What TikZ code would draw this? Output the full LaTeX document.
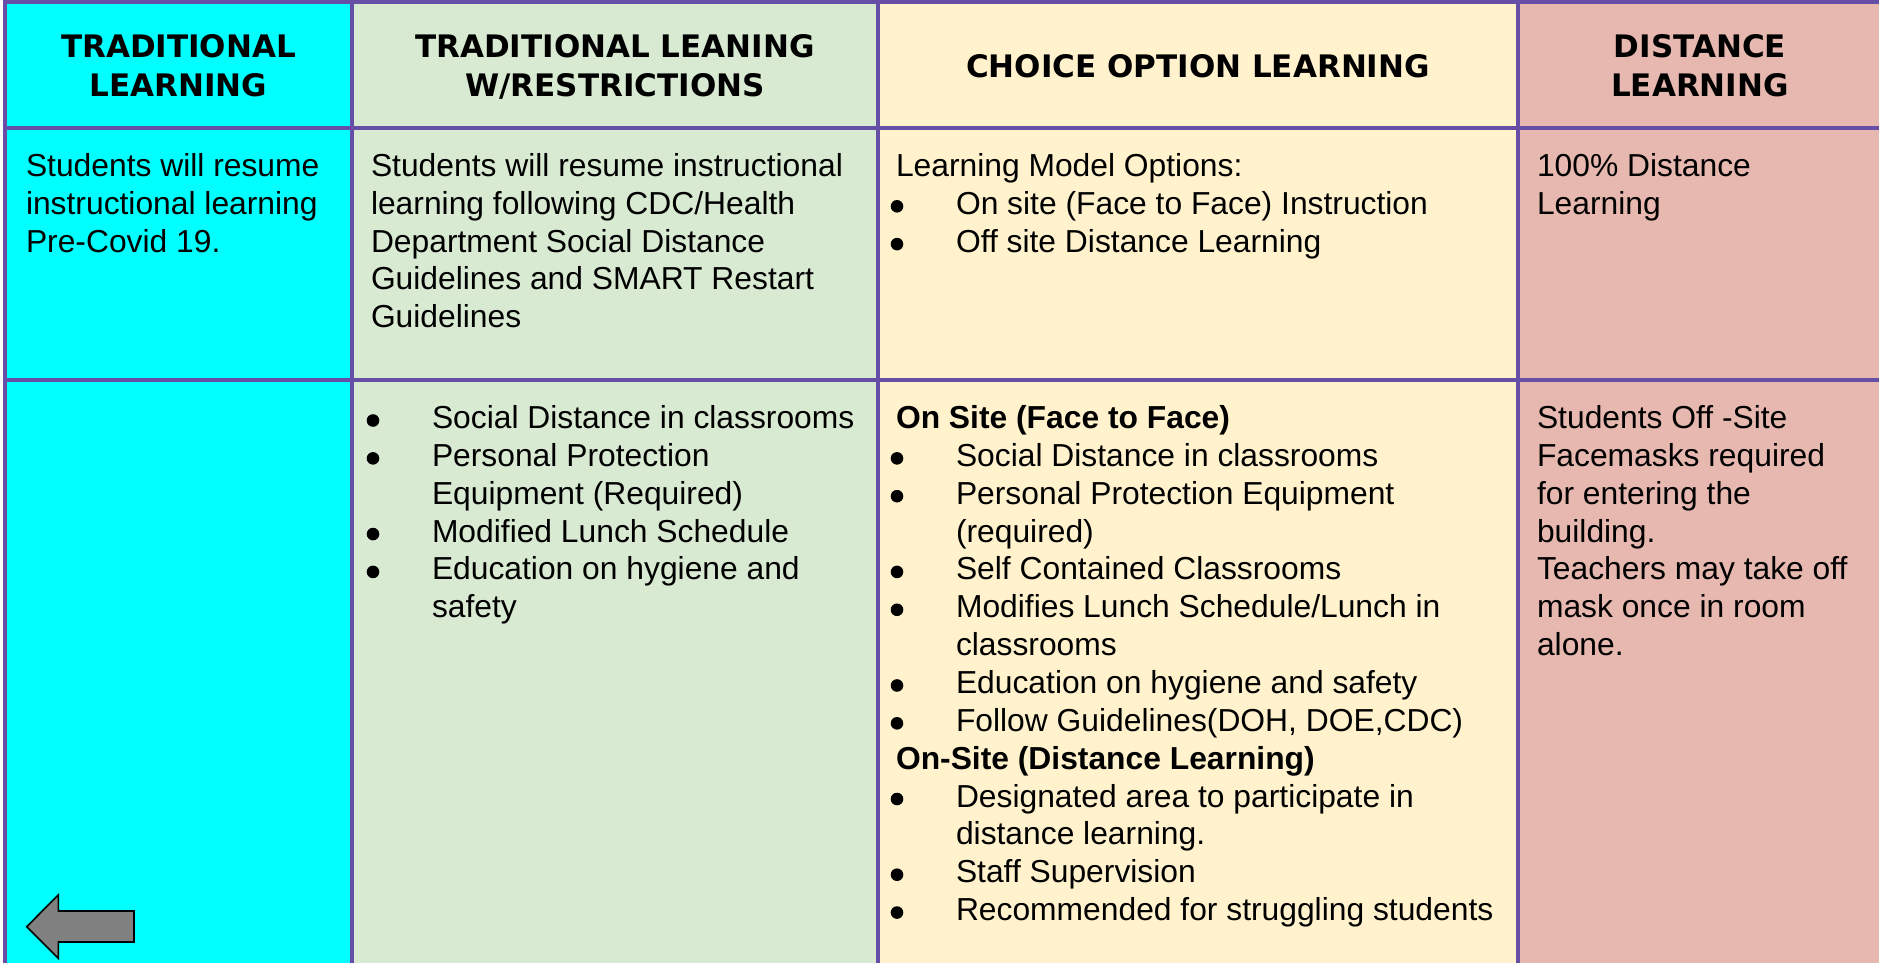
\documentclass[tikz,border=0pt]{standalone}
\usepackage{fontspec}
\newfontfamily\bodyfam{Liberation Sans}
\newfontfamily\headfam{DejaVu Sans}
\definecolor{cyancell}{HTML}{00FFFF}
\definecolor{greencell}{HTML}{D9EAD3}
\definecolor{yellowcell}{HTML}{FFF2CC}
\definecolor{pinkcell}{HTML}{E6B8AF}
\definecolor{gridc}{HTML}{674EA7}
\definecolor{arrowgray}{HTML}{808080}
\newcommand\bodyfont{\bodyfam\fontsize{31.8}{38}\selectfont}
\newcommand\headfont{\headfam\bfseries\fontsize{31}{37}\selectfont}
\newcommand\tline[4]{\node[tx] (#1) at (#2,#3) {#4};}
\newcommand\bline[5]{\fill[bul] (#2,#3-8) circle (6.3pt); \node[tx] (#1) at (#4,#3) {#5};}
\begin{document}
\begin{tikzpicture}[x=1pt,y=-1pt,
  tx/.style={anchor=base west, inner sep=0pt, outer sep=0pt, font=\bodyfont, text=black},
  hd/.style={anchor=base, inner sep=0pt, outer sep=0pt, font=\headfont, text=black},
  bul/.style={fill=black},
  gridline/.style={draw=gridc, line width=4pt},
  arrowst/.style={fill=arrowgray, draw=black, line width=1.6pt, line join=miter}]
\useasboundingbox (0,0) rectangle (1879,963);
\fill[white] (0,0) rectangle (1879,963);
% cell fills
\fill[cyancell] (5,0) rectangle (352,963);
\fill[greencell] (352,0) rectangle (877.5,963);
\fill[yellowcell] (877.5,0) rectangle (1518,963);
\fill[pinkcell] (1518,0) rectangle (1879,963);
% grid
\draw[gridline] (5,0) -- (5,963);
\draw[gridline] (352,0) -- (352,963);
\draw[gridline] (877.5,0) -- (877.5,963);
\draw[gridline] (1518,0) -- (1518,963);
\draw[gridline] (3,2.3) -- (1879,2.3);
\draw[gridline] (3,128.5) -- (1879,128.5);
\draw[gridline] (3,380) -- (1879,380);
% headers
\node[hd] (h1a) at (178.5,58) {TRADITIONAL};
\node[hd] (h1b) at (178.5,96.5) {LEARNING};
\node[hd] (h2a) at (615,58) {TRADITIONAL LEANING};
\node[hd] (h2b) at (615,96.5) {W/RESTRICTIONS};
\node[hd] (h3a) at (1198,78) {CHOICE OPTION LEARNING};
\node[hd] (h4a) at (1700,58) {DISTANCE};
\node[hd] (h4b) at (1700,96.5) {LEARNING};
% row 2
\tline{a1}{26}{176.5}{Students will resume}
\tline{a2}{26}{214.3}{instructional learning}
\tline{a3}{26}{252.1}{Pre-Covid 19.}
\tline{b1}{371}{176.5}{Students will resume instructional}
\tline{b2}{371}{214.3}{learning following CDC/Health}
\tline{b3}{371}{252.1}{Department Social Distance}
\tline{b4}{371}{289.9}{Guidelines and SMART Restart}
\tline{b5}{371}{327.7}{Guidelines}
\tline{c1}{896}{176.5}{Learning Model Options:}
\bline{c2}{897}{214.3}{956}{On site (Face to Face) Instruction}
\bline{c3}{897}{252.1}{956}{Off site Distance Learning}
\tline{d1}{1537}{176.5}{100\% Distance}
\tline{d2}{1537}{214.3}{Learning}
% row 3, column 2
\bline{e1}{373}{428.5}{432}{Social Distance in classrooms}
\bline{e2}{373}{466.35}{432}{Personal Protection}
\tline{e3}{432}{504.2}{Equipment (Required)}
\bline{e4}{373}{542.05}{432}{Modified Lunch Schedule}
\bline{e5}{373}{579.9}{432}{Education on hygiene and}
\tline{e6}{432}{617.75}{safety}
% row 3, column 3
\tline{f1}{896}{428.5}{\bfseries On Site (Face to Face)}
\bline{f2}{897}{466.35}{956}{Social Distance in classrooms}
\bline{f3}{897}{504.2}{956}{Personal Protection Equipment}
\tline{f4}{956}{542.05}{(required)}
\bline{f5}{897}{579.9}{956}{Self Contained Classrooms}
\bline{f6}{897}{617.75}{956}{Modifies Lunch Schedule/Lunch in}
\tline{f7}{956}{655.6}{classrooms}
\bline{f8}{897}{693.45}{956}{Education on hygiene and safety}
\bline{f9}{897}{731.3}{956}{Follow Guidelines(DOH, DOE,CDC)}
\tline{f10}{896}{769.15}{\bfseries On-Site (Distance Learning)}
\bline{f11}{897}{807}{956}{Designated area to participate in}
\tline{f12}{956}{844.85}{distance learning.}
\bline{f13}{897}{882.7}{956}{Staff Supervision}
\bline{f14}{897}{920.55}{956}{Recommended for struggling students}
% row 3, column 4
\tline{g1}{1537}{428.5}{Students Off -Site}
\tline{g2}{1537}{466.35}{Facemasks required}
\tline{g3}{1537}{504.2}{for entering the}
\tline{g4}{1537}{542.05}{building.}
\tline{g5}{1537}{579.9}{Teachers may take off}
\tline{g6}{1537}{617.75}{mask once in room}
\tline{g7}{1537}{655.6}{alone.}
% back arrow
\draw[arrowst] (26.7,926.7) -- (58.3,895) -- (58.3,911) -- (134,911) -- (134,942) -- (58.3,942) -- (58.3,958.3) -- cycle;
\end{tikzpicture}
\end{document}
